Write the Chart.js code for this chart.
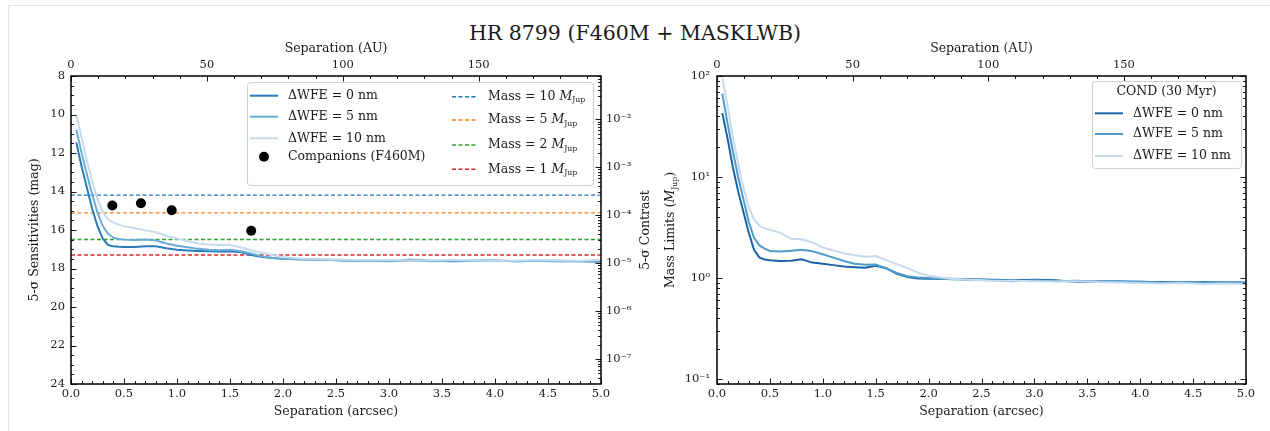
<!DOCTYPE html>
<html>
<head>
<meta charset="utf-8">
<script src="https://cdn.jsdelivr.net/npm/chart.js@4.4.0/dist/chart.umd.min.js"></script>
<style>
  body { margin: 0; background: #fff; width: 1270px; height: 431px; position: relative; overflow: hidden; font-family: "DejaVu Serif", serif; }
  #frame { position: absolute; left: 8px; top: 5px; width: 1262px; height: 426px; border-left: 1px solid #e4e4e4; border-top: 1px solid #e4e4e4; }
  #title { position: absolute; left: 0; top: 21px; width: 1270px; text-align: center; font-size: 20.5px; line-height: 24px; color: #1a1a1a; }
  canvas { position: absolute; top: 0; }
</style>
</head>
<body>
<div id="frame"></div>
<div id="title">HR 8799 (F460M + MASKLWB)</div>
<canvas id="sens" width="660" height="431" style="left:0"></canvas>
<canvas id="mass" width="630" height="431" style="left:640px"></canvas>
<script>
const FONT = '"DejaVu Serif", serif';
const INK = '#1a1a1a';

// separation (arcsec) shared by all curves
const sep = [0.05, 0.1, 0.15, 0.2, 0.25, 0.3, 0.35, 0.4, 0.45, 0.5,
             0.6, 0.7, 0.8, 0.9, 1.0, 1.1, 1.2, 1.3, 1.4, 1.5,
             1.6, 1.7, 1.8, 1.9, 2.0, 2.2, 2.4, 2.6, 2.8, 3.0,
             3.2, 3.4, 3.6, 3.8, 4.0, 4.2, 4.4, 4.6, 4.8, 5.0];

// 5-sigma sensitivities (mag) for dWFE = 0, 5, 10 nm
const mag0 = [11.45, 12.7, 13.8, 14.9, 15.8, 16.45, 16.78, 16.85, 16.87, 16.88,
              16.88, 16.84, 16.85, 16.95, 17.02, 17.06, 17.09, 17.11, 17.12, 17.1,
              17.15, 17.3, 17.4, 17.45, 17.5, 17.52, 17.55, 17.58, 17.6, 17.6,
              17.55, 17.6, 17.62, 17.6, 17.58, 17.62, 17.6, 17.6, 17.62, 17.65];
const mag5 = [10.78, 12.0, 13.1, 14.15, 15.1, 15.8, 16.2, 16.4, 16.47, 16.5,
              16.52, 16.5, 16.55, 16.7, 16.82, 16.9, 16.98, 17.03, 17.05, 17.02,
              17.1, 17.22, 17.38, 17.45, 17.5, 17.55, 17.55, 17.6, 17.58, 17.62,
              17.58, 17.62, 17.6, 17.58, 17.6, 17.62, 17.6, 17.63, 17.62, 17.6];
const mag10 = [10.04, 11.2, 12.4, 13.45, 14.4, 15.05, 15.45, 15.62, 15.72, 15.8,
               15.9, 16.02, 16.12, 16.3, 16.44, 16.58, 16.7, 16.75, 16.78, 16.78,
               16.9, 17.05, 17.18, 17.3, 17.4, 17.5, 17.52, 17.55, 17.57, 17.55,
               17.58, 17.57, 17.55, 17.58, 17.6, 17.58, 17.56, 17.58, 17.6, 17.55];

// mass limits (M_Jup), COND 30 Myr
const mass0 = [43, 24, 12.5, 7.2, 4.5, 2.8, 1.9, 1.6, 1.52, 1.5,
               1.47, 1.48, 1.53, 1.42, 1.38, 1.34, 1.3, 1.28, 1.26, 1.32,
               1.25, 1.1, 1.02, 0.99, 0.98, 0.98, 0.97, 0.96, 0.95, 0.96,
               0.95, 0.91, 0.92, 0.92, 0.9, 0.91, 0.9, 0.91, 0.9, 0.9];
const mass5 = [67, 34, 18, 10, 6.0, 3.6, 2.5, 2.1, 1.95, 1.85,
               1.83, 1.86, 1.9, 1.84, 1.72, 1.59, 1.47, 1.38, 1.35, 1.36,
               1.24, 1.12, 1.04, 1.01, 1.0, 0.97, 0.96, 0.95, 0.93, 0.95,
               0.93, 0.94, 0.92, 0.93, 0.92, 0.9, 0.91, 0.9, 0.91, 0.89];
const mass10 = [96, 50, 25, 13.5, 7.8, 5.0, 3.8, 3.3, 3.1, 3.0,
                2.8, 2.45, 2.42, 2.25, 2.0, 1.87, 1.76, 1.68, 1.62, 1.65,
                1.5, 1.37, 1.25, 1.13, 1.05, 0.98, 0.96, 0.94, 0.94, 0.93,
                0.92, 0.93, 0.91, 0.9, 0.89, 0.88, 0.89, 0.87, 0.88, 0.87];

// companions e, d, c, b
const compSep = [0.39, 0.66, 0.95, 1.70];
const compMag = [14.73, 14.61, 14.97, 16.04];

// magnitude of a few planet masses
const massLevels = [10, 5, 2, 1];
const massLevelMag = [14.19, 15.11, 16.49, 17.30];
const massColors = ['#1f77b4', '#ff7f0e', '#2ca02c', '#d62728'];

const distPc = 39.0;     // arcsec -> AU
const zeroMag = 5.26;    // magnitude at contrast 1

// tick labels
const sepTicks = [0, 0.5, 1, 1.5, 2, 2.5, 3, 3.5, 4, 4.5, 5];
const auTicks = [0, 50, 100, 150];
const magTicks = [8, 10, 12, 14, 16, 18, 20, 22, 24];
const contrastTicks = [1e-7, 1e-6, 1e-5, 1e-4, 1e-3, 1e-2];
const massTicks = [0.1, 1, 10, 100];

const blues = { left: ['#2b7bba', '#6aaed6', '#c6dbef'], right: ['#1b63a6', '#4f9cca', '#c6dbef'] };

function steps(lo, hi, st) {
  const out = [];
  for (let v = lo; v <= hi + 1e-9; v += st) out.push(+v.toFixed(6));
  return out;
}
function minorLog(lo, hi) {
  const out = [];
  for (let k = Math.floor(Math.log10(lo)); k <= Math.ceil(Math.log10(hi)); k++)
    for (let j = 2; j <= 9; j++) {
      const v = j * Math.pow(10, k);
      if (v >= lo && v <= hi) out.push(v);
    }
  return out;
}
function sup(n) {
  const m = { '-': '⁻', '0': '⁰', '1': '¹', '2': '²', '3': '³', '4': '⁴', '5': '⁵', '6': '⁶', '7': '⁷', '8': '⁸', '9': '⁹' };
  return String(n).split('').map(c => m[c]).join('');
}
const powLabel = v => '10' + sup(Math.round(Math.log10(v)));
const useTicks = list => s => { s.ticks = list.map(v => ({ value: v })); };
const fix = (k, n) => s => { s[k] = n; };
const tickFont = { family: FONT, size: 11.5 };
const titleFont = { family: FONT, size: 12.5 };

// text with "M_Jup" drawn as italic M + subscript
function richText(ctx, text, x, y, size, align) {
  const parts = [];
  const bits = text.split('M_Jup');
  bits.forEach((b, i) => {
    if (b) parts.push({ t: b, f: `${size}px ${FONT}`, dy: 0 });
    if (i < bits.length - 1) {
      parts.push({ t: 'M', f: `italic ${size}px ${FONT}`, dy: 0 });
      parts.push({ t: 'Jup', f: `${size * 0.62}px ${FONT}`, dy: size * 0.3 });
    }
  });
  let w = 0;
  parts.forEach(p => { ctx.font = p.f; p.w = ctx.measureText(p.t).width; w += p.w; });
  let cx = align === 'center' ? x - w / 2 : x;
  ctx.textAlign = 'left';
  ctx.textBaseline = 'middle';
  parts.forEach(p => { ctx.font = p.f; ctx.fillText(p.t, cx, y + p.dy); cx += p.w; });
}

const inwardTicks = {
  id: 'inwardTicks',
  afterDatasetsDraw(chart, args, opts) {
    const { ctx, chartArea: a } = chart;
    ctx.save();
    ctx.strokeStyle = INK;
    ctx.lineWidth = 1;
    for (const spec of opts.specs) {
      const sc = chart.scales[spec.scale];
      const draw = (v, len) => {
        const p = Math.round(sc.getPixelForValue(v)) + 0.5;
        ctx.beginPath();
        if (spec.side === 'left') { ctx.moveTo(a.left, p); ctx.lineTo(a.left + len, p); }
        if (spec.side === 'right') { ctx.moveTo(a.right, p); ctx.lineTo(a.right - len, p); }
        if (spec.side === 'top') { ctx.moveTo(p, a.top); ctx.lineTo(p, a.top + len); }
        if (spec.side === 'bottom') { ctx.moveTo(p, a.bottom); ctx.lineTo(p, a.bottom - len); }
        ctx.stroke();
      };
      spec.minor.forEach(v => draw(v, 3));
      spec.major.forEach(v => draw(v, 5.5));
    }
    ctx.lineWidth = 1.5;
    ctx.strokeStyle = '#000';
    ctx.strokeRect(a.left, a.top, a.right - a.left, a.bottom - a.top);
    ctx.restore();
  }
};

const boxLegend = {
  id: 'boxLegend',
  afterDraw(chart, args, o) {
    const ctx = chart.ctx;
    const [x0, y0, x1, y1] = o.box;
    ctx.save();
    ctx.beginPath();
    ctx.roundRect(x0 + 0.5, y0 + 0.5, x1 - x0, y1 - y0, 3);
    ctx.fillStyle = 'rgba(255,255,255,0.85)';
    ctx.fill();
    ctx.strokeStyle = '#d0d0d0';
    ctx.lineWidth = 1;
    ctx.stroke();
    ctx.fillStyle = INK;
    if (o.title) richText(ctx, o.title, (x0 + x1) / 2, o.titleY, 12.5, 'center');
    for (const it of o.items) {
      const ds = chart.data.datasets[it.ds];
      if (ds.showLine === false) {
        ctx.beginPath();
        ctx.arc((it.line[0] + it.line[1]) / 2, it.y, ds.pointRadius, 0, Math.PI * 2);
        ctx.fillStyle = ds.backgroundColor;
        ctx.fill();
      } else {
        ctx.beginPath();
        ctx.setLineDash(ds.borderDash || []);
        ctx.strokeStyle = ds.borderColor;
        ctx.lineWidth = ds.borderWidth;
        ctx.moveTo(it.line[0], it.y);
        ctx.lineTo(it.line[1], it.y);
        ctx.stroke();
        ctx.setLineDash([]);
      }
      ctx.fillStyle = INK;
      richText(ctx, ds.label, it.textX, it.y, 12.5, 'left');
    }
    ctx.restore();
  }
};

const sideLabels = {
  id: 'sideLabels',
  afterDraw(chart, args, o) {
    const ctx = chart.ctx;
    for (const l of o.labels) {
      ctx.save();
      ctx.translate(l.x, l.y);
      ctx.rotate(-Math.PI / 2);
      ctx.fillStyle = INK;
      richText(ctx, l.text, 0, 0, 12.5, 'center');
      ctx.restore();
    }
  }
};

const pts = (xs, ys) => xs.map((x, i) => ({ x, y: ys[i] }));
const wfeLabels = ['ΔWFE = 0 nm', 'ΔWFE = 5 nm', 'ΔWFE = 10 nm'];
const auMax = 5 * distPc;
const cMin = Math.pow(10, -0.4 * (24 - zeroMag));
const cMax = Math.pow(10, -0.4 * (8 - zeroMag));

function xAxes() {
  return {
    x: {
      type: 'linear', position: 'bottom', min: 0, max: 5,
      afterBuildTicks: useTicks(sepTicks), afterFit: fix('height', 47),
      grid: { display: false, drawTicks: false }, border: { display: false },
      ticks: { font: tickFont, color: INK, padding: 3, maxRotation: 0, autoSkip: false, callback: v => v.toFixed(1) },
      title: { display: true, text: 'Separation (arcsec)', font: titleFont, color: INK, padding: { top: 0, bottom: 12 } }
    },
    x2: {
      type: 'linear', position: 'top', min: 0, max: auMax,
      afterBuildTicks: useTicks(auTicks), afterFit: fix('height', 36),
      grid: { display: false, drawTicks: false }, border: { display: false },
      ticks: { font: tickFont, color: INK, padding: 4, maxRotation: 0, autoSkip: false, callback: v => String(v) },
      title: { display: true, text: 'Separation (AU)', font: titleFont, color: INK, padding: { top: 1.5, bottom: 0 } }
    }
  };
}
const xTickSpecs = [
  { scale: 'x', side: 'bottom', major: sepTicks, minor: steps(0, 5, 0.1) },
  { scale: 'x2', side: 'top', major: auTicks, minor: steps(0, auMax, 10) }
];

// left panel: sensitivity in magnitudes
const sensData = [
  { label: wfeLabels[0], data: pts(sep, mag0), borderColor: blues.left[0], borderWidth: 2, order: 3 },
  { label: wfeLabels[1], data: pts(sep, mag5), borderColor: blues.left[1], borderWidth: 2, order: 2 },
  { label: wfeLabels[2], data: pts(sep, mag10), borderColor: blues.left[2], borderWidth: 2, order: 1 },
  { label: 'Companions (F460M)', data: pts(compSep, compMag), showLine: false, pointRadius: 5,
    backgroundColor: '#000', borderColor: '#000', pointBorderWidth: 0, order: 0 }
].concat(massLevels.map((m, i) => ({
  label: `Mass = ${m} M_Jup`,
  data: [{ x: 0, y: massLevelMag[i] }, { x: 5, y: massLevelMag[i] }],
  borderColor: massColors[i], borderWidth: 1.4, borderDash: [4, 2.5], order: 4
})));

new Chart(document.getElementById('sens'), {
  type: 'line',
  data: { datasets: sensData },
  options: {
    responsive: false, animation: false,
    layout: { padding: { top: 40, left: 0, right: 0, bottom: 0 }, autoPadding: false },
    elements: { point: { radius: 0 }, line: { tension: 0 } },
    plugins: {
      legend: { display: false }, tooltip: { enabled: false },
      inwardTicks: { specs: xTickSpecs.concat([
        { scale: 'y', side: 'left', major: magTicks, minor: steps(8, 24, 0.5) },
        { scale: 'y2', side: 'right', major: contrastTicks, minor: minorLog(cMin, cMax) }
      ]) },
      boxLegend: {
        box: [247, 82, 593, 185],
        items: [
          { ds: 0, line: [250, 278], textX: 288, y: 95.7 },
          { ds: 1, line: [250, 278], textX: 288, y: 116.7 },
          { ds: 2, line: [250, 278], textX: 288, y: 138.3 },
          { ds: 3, line: [250, 278], textX: 288, y: 156.7 },
          { ds: 4, line: [452, 477], textX: 488, y: 96.7 },
          { ds: 5, line: [452, 477], textX: 488, y: 120 },
          { ds: 6, line: [452, 477], textX: 488, y: 145 },
          { ds: 7, line: [452, 477], textX: 488, y: 169.3 }
        ]
      },
      sideLabels: { labels: [{ text: '5-σ Contrast', x: 646, y: 230 }] }
    },
    scales: Object.assign(xAxes(), {
      y: {
        type: 'linear', position: 'left', min: 8, max: 24, reverse: true,
        afterBuildTicks: useTicks(magTicks), afterFit: fix('width', 71),
        grid: { display: false, drawTicks: false }, border: { display: false },
        ticks: { font: tickFont, color: INK, padding: 6, autoSkip: false },
        title: { display: true, text: '5-σ Sensitivities (mag)', font: titleFont, color: INK, padding: { top: 27.5, bottom: 0 } }
      },
      y2: {
        type: 'logarithmic', position: 'right', min: cMin, max: cMax,
        afterBuildTicks: useTicks(contrastTicks), afterFit: fix('width', 59),
        grid: { display: false, drawTicks: false }, border: { display: false },
        ticks: { font: tickFont, color: INK, padding: 5, autoSkip: false, callback: powLabel }
      }
    })
  },
  plugins: [inwardTicks, boxLegend, sideLabels]
});

// right panel: mass limits
const massMin = Math.pow(10, -1.05);
new Chart(document.getElementById('mass'), {
  type: 'line',
  data: { datasets: [
    { label: wfeLabels[0], data: pts(sep, mass0), borderColor: blues.right[0], borderWidth: 2, order: 3 },
    { label: wfeLabels[1], data: pts(sep, mass5), borderColor: blues.right[1], borderWidth: 2, order: 2 },
    { label: wfeLabels[2], data: pts(sep, mass10), borderColor: blues.right[2], borderWidth: 2, order: 1 }
  ] },
  options: {
    responsive: false, animation: false,
    layout: { padding: { top: 40, left: 0, right: 24, bottom: 0 }, autoPadding: false },
    elements: { point: { radius: 0 }, line: { tension: 0 } },
    plugins: {
      legend: { display: false }, tooltip: { enabled: false },
      inwardTicks: { specs: xTickSpecs.concat([
        { scale: 'y', side: 'left', major: massTicks, minor: minorLog(massMin, 100) },
        { scale: 'y', side: 'right', major: massTicks, minor: minorLog(massMin, 100) }
      ]) },
      boxLegend: {
        box: [452, 81, 601, 168], title: 'COND (30 Myr)', titleY: 91.7,
        items: [
          { ds: 0, line: [455, 483], textX: 493, y: 113.3 },
          { ds: 1, line: [455, 483], textX: 493, y: 134 },
          { ds: 2, line: [455, 483], textX: 493, y: 156 }
        ]
      },
      sideLabels: { labels: [{ text: 'Mass Limits (M_Jup)', x: 31, y: 230 }] }
    },
    scales: Object.assign(xAxes(), {
      y: {
        type: 'logarithmic', position: 'left', min: massMin, max: 100,
        afterBuildTicks: useTicks(massTicks), afterFit: fix('width', 77),
        grid: { display: false, drawTicks: false }, border: { display: false },
        ticks: { font: tickFont, color: INK, padding: 7, autoSkip: false, callback: powLabel }
      }
    })
  },
  plugins: [inwardTicks, boxLegend, sideLabels]
});
</script>
</body>
</html>
